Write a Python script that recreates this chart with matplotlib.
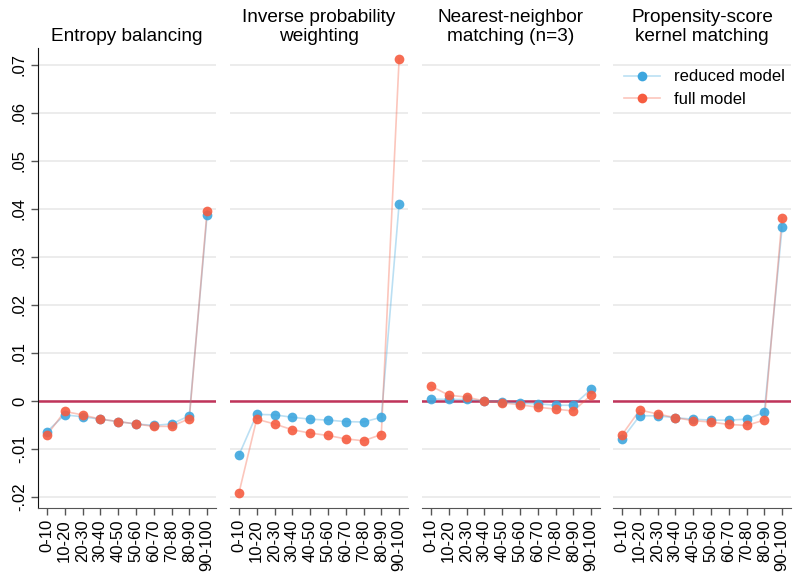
import matplotlib.pyplot as plt
from matplotlib.colors import to_rgba
import numpy as np

plt.rcParams['font.family'] = ['Liberation Sans', 'DejaVu Sans']

deciles = ['0-10', '10-20', '20-30', '30-40', '40-50',
           '50-60', '60-70', '70-80', '80-90', '90-100']
titles = ['Entropy balancing', 'Inverse probability\nweighting',
          'Nearest-neighbor\nmatching (n=3)', 'Propensity-score\nkernel matching']

# reduced model estimates per decile, one list per method
reduced_eb = [-0.0064, -0.0029, -0.0033, -0.0038, -0.0043, -0.0048, -0.0051, -0.0048, -0.0031, 0.0387]
reduced_ipw = [-0.0113, -0.0028, -0.0029, -0.0034, -0.0038, -0.0040, -0.0043, -0.0044, -0.0034, 0.0410]
reduced_nn = [0.0004, 0.0003, 0.0003, 0.0000, -0.0002, -0.0005, -0.0006, -0.0009, -0.0009, 0.0024]
reduced_ps = [-0.0080, -0.0031, -0.0031, -0.0035, -0.0038, -0.0040, -0.0040, -0.0038, -0.0024, 0.0362]

# full model estimates
full_eb = [-0.0071, -0.0022, -0.0029, -0.0038, -0.0043, -0.0048, -0.0053, -0.0053, -0.0037, 0.0396]
full_ipw = [-0.0192, -0.0038, -0.0048, -0.0060, -0.0067, -0.0072, -0.0079, -0.0083, -0.0070, 0.0712]
full_nn = [0.0031, 0.0012, 0.0008, 0.0000, -0.0004, -0.0008, -0.0013, -0.0017, -0.0021, 0.0012]
full_ps = [-0.0071, -0.0019, -0.0027, -0.0035, -0.0041, -0.0044, -0.0049, -0.0051, -0.0040, 0.0381]

reduced = [reduced_eb, reduced_ipw, reduced_nn, reduced_ps]
full = [full_eb, full_ipw, full_nn, full_ps]

yticks = [-0.02, -0.01, 0, 0.01, 0.02, 0.03, 0.04, 0.05, 0.06, 0.07]
ylabels = ['-.02', '-.01', '0', '.01', '.02', '.03', '.04', '.05', '.06', '.07']

blue = '#3DA6DE'
red = '#F65C40'

fig = plt.figure(figsize=(7.93, 5.73), dpi=100)
x = np.arange(1, len(deciles) + 1)
lefts = [38, 230, 422, 613]

for i, left in enumerate(lefts):
    ax = fig.add_axes([left / 793, 65 / 573, 178 / 793, 460 / 573])
    for v in yticks:
        ax.axhline(v, color='#EBEBEB', lw=1.3, zorder=0)
    ax.axhline(0, color='#C0345A', lw=1.8, zorder=1)

    for vals, c, lab in [(reduced[i], blue, 'reduced model'), (full[i], red, 'full model')]:
        ax.plot(x, vals, color=c, lw=1.2, alpha=0.35, zorder=2)
        ax.plot(x, vals, 'o', color=c, ms=7, mec='none', alpha=0.9, zorder=3)
        # legend handle: faint line with a solid marker
        ax.plot([], [], color=to_rgba(c, 0.35), lw=1.2, marker='o', ms=7, mec='none',
                markerfacecolor=c, label=lab)

    ax.set_xlim(0.5, 10.5)
    ax.set_ylim(-0.0223, 0.0735)
    ax.set_xticks(x)
    ax.set_xticklabels(deciles, rotation=90, fontsize=12)
    ax.tick_params(axis='x', length=5, width=1, color='#555555', pad=3)
    ax.set_title(titles[i], fontsize=13.7, pad=5, linespacing=1.15)

    for s in ['top', 'right']:
        ax.spines[s].set_visible(False)
    ax.spines['bottom'].set_color('#555555')
    if i == 0:
        ax.set_yticks(yticks)
        ax.set_yticklabels(ylabels, rotation=90, va='center', fontsize=12)
        ax.tick_params(axis='y', length=5, width=1, color='#555555', pad=3)
        ax.spines['left'].set_color('#111111')
    else:
        ax.spines['left'].set_visible(False)
        ax.set_yticks([])

    if i == 3:
        ax.legend(loc='upper right', bbox_to_anchor=(1.02, 0.975), frameon=False,
                  fontsize=12, handlelength=2.2, handletextpad=0.8,
                  labelspacing=0.45, borderaxespad=0.2)

fig.savefig('out.png', dpi=100)
